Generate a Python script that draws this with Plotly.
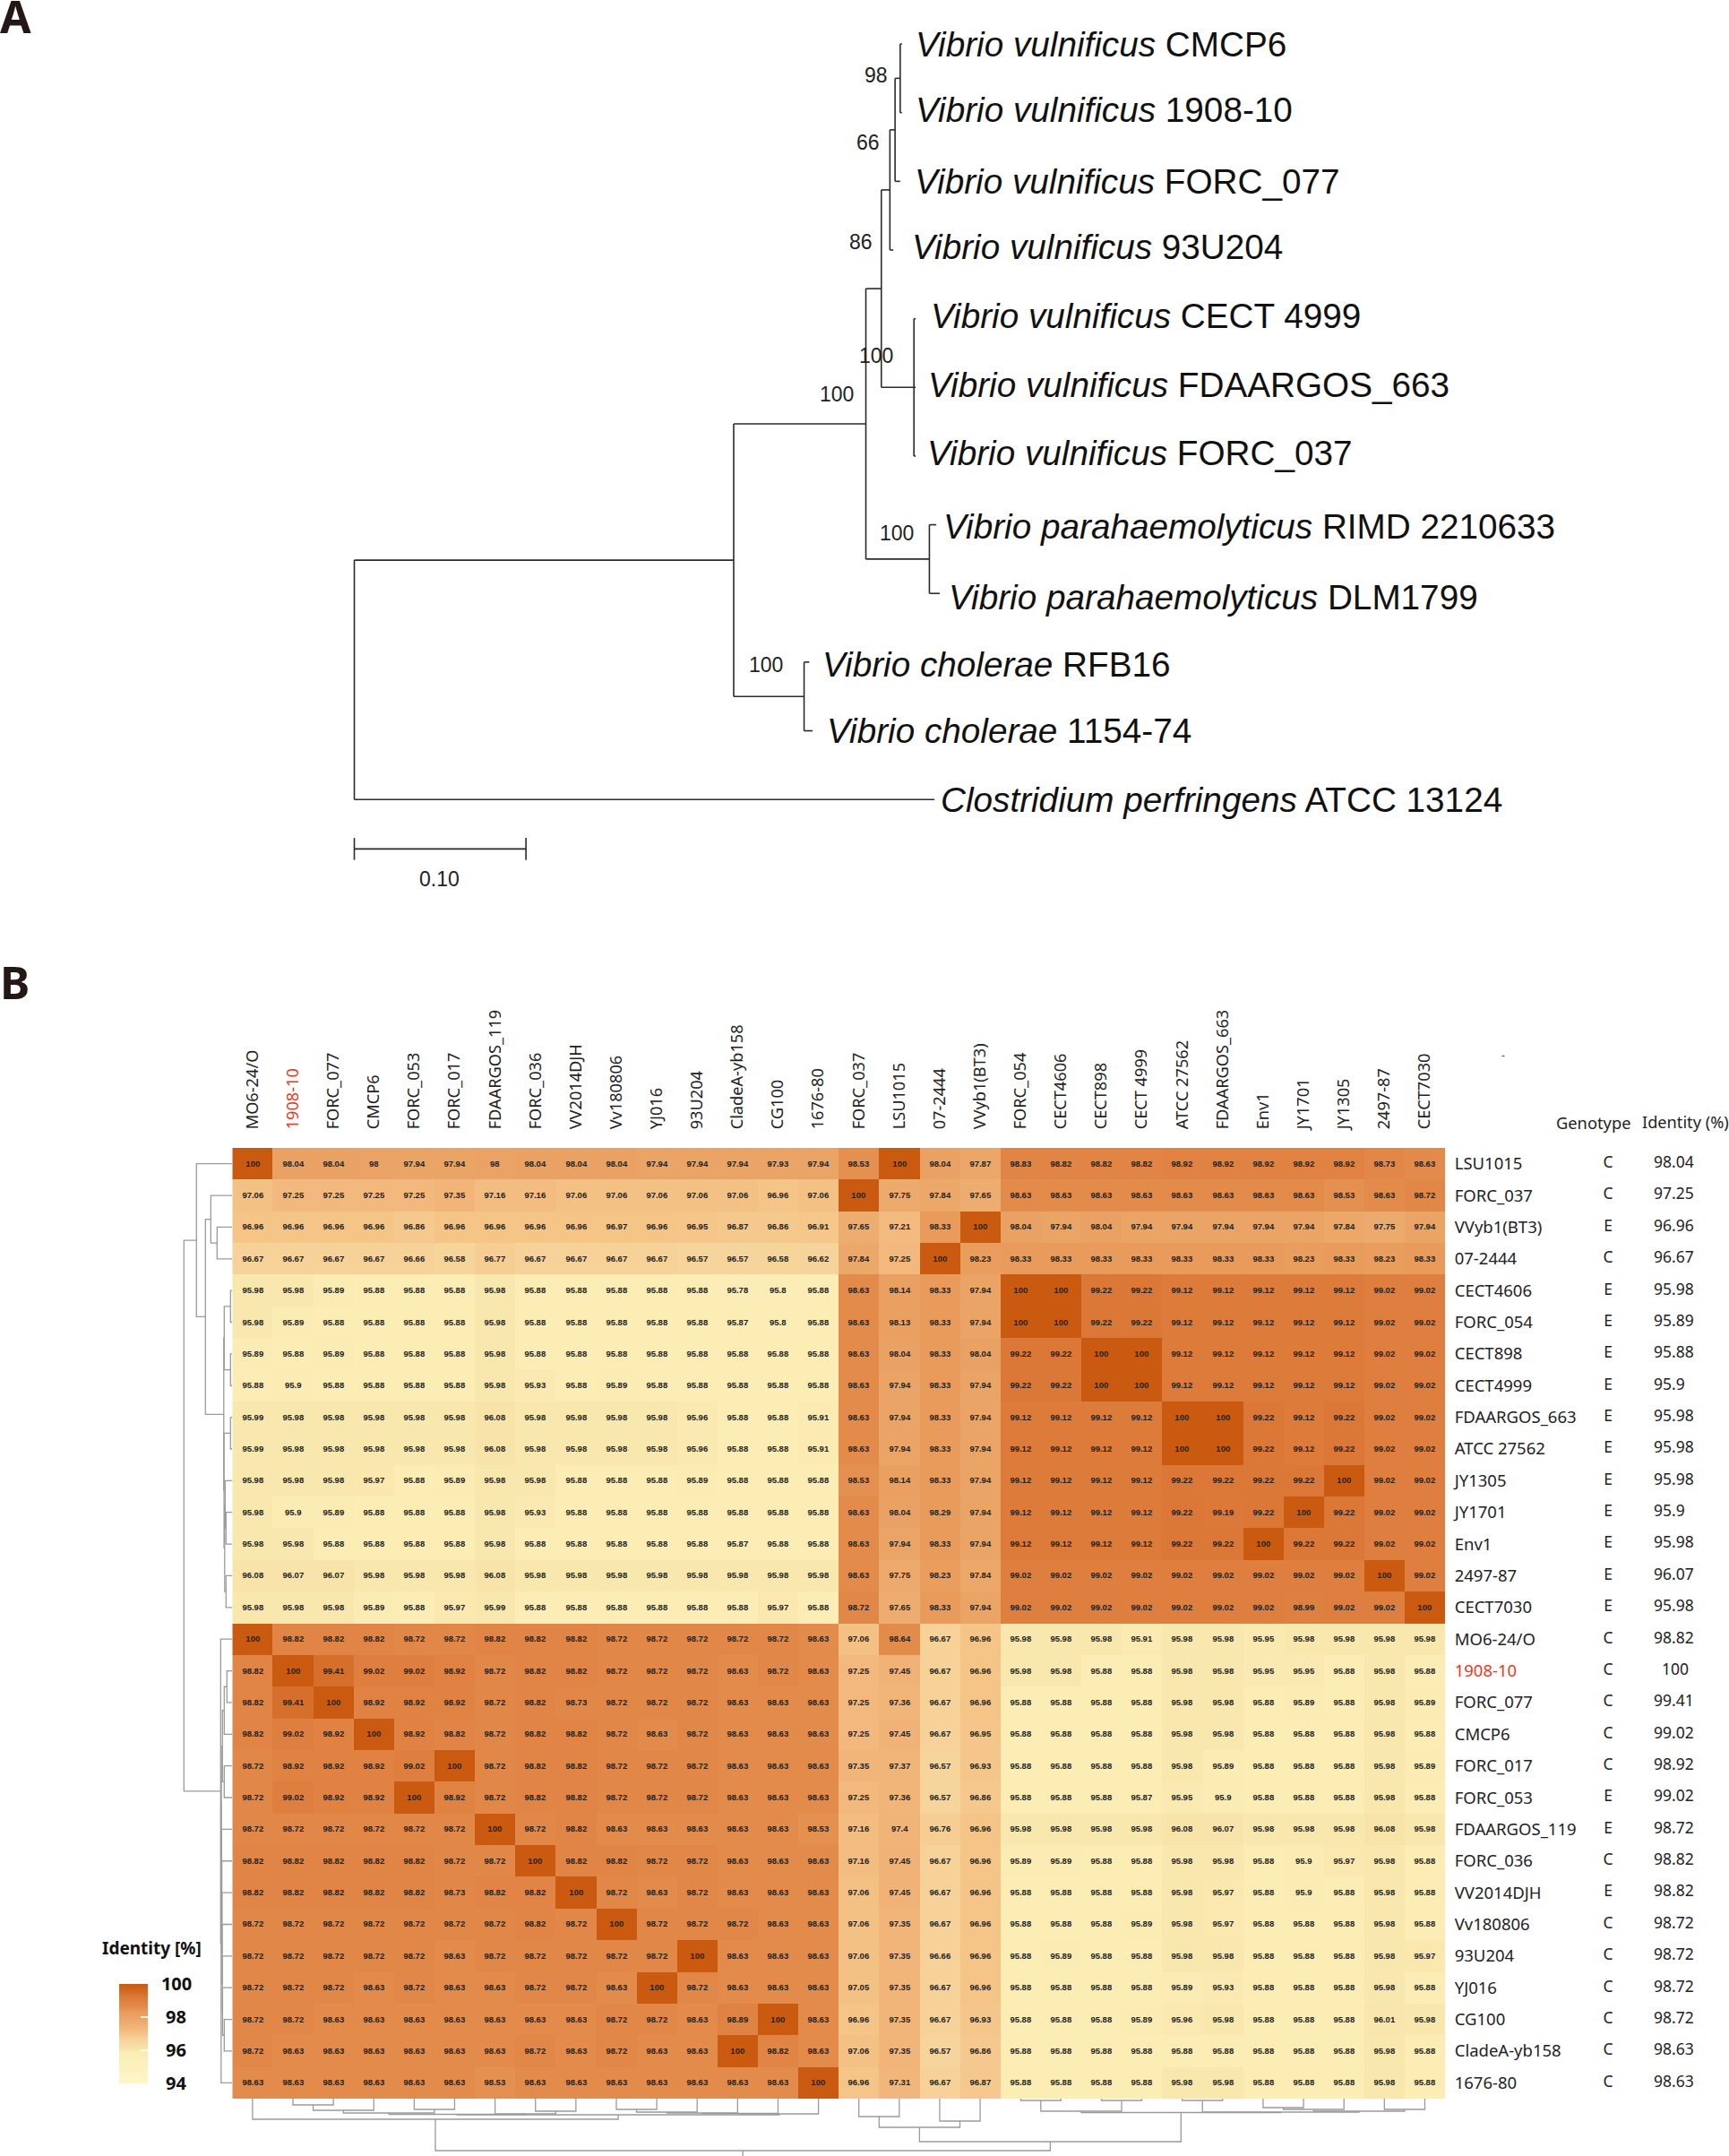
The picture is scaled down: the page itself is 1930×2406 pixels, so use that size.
import plotly.graph_objects as go

# ---------- DATA: panel A ----------
leaf_species = ["Vibrio vulnificus"] * 7 + ["Vibrio parahaemolyticus"] * 2 + ["Vibrio cholerae"] * 2 + ["Clostridium perfringens"]
leaf_strains = ["CMCP6", "1908-10", "FORC_077", "93U204", "CECT 4999", "FDAARGOS_663", "FORC_037",
                "RIMD 2210633", "DLM1799", "RFB16", "1154-74", "ATCC 13124"]
# node = (depth from root, children...), leaf = (depth, leaf index)
phylo_tree = (0.0,
    (0.221,
        (0.298,
            (0.307,
                (0.312,
                    (0.315,
                        (0.318, (0.319, 0), (0.319, 1)),
                        (0.318, 2)),
                    (0.314, 3)),
                (0.326, (0.327, 4), (0.327, 5), (0.327, 6))),
            (0.335, (0.339, 7), (0.341, 8))),
        (0.262, (0.265, 9), (0.267, 10))),
    (0.338, 11))
support_values = ["98", "66", "86", "100", "100", "100", "100"]
scale_bar_length = 0.10

# ---------- DATA: panel B ----------
col_labels = ["MO6-24/O", "1908-10", "FORC_077", "CMCP6", "FORC_053", "FORC_017", "FDAARGOS_119", "FORC_036",
              "VV2014DJH", "Vv180806", "YJ016", "93U204", "CladeA-yb158", "CG100", "1676-80", "FORC_037", "LSU1015",
              "07-2444", "VVyb1(BT3)", "FORC_054", "CECT4606", "CECT898", "CECT 4999", "ATCC 27562", "FDAARGOS_663",
              "Env1", "JY1701", "JY1305", "2497-87", "CECT7030"]
row_labels = ["LSU1015", "FORC_037", "VVyb1(BT3)", "07-2444", "CECT4606", "FORC_054", "CECT898", "CECT4999",
              "FDAARGOS_663", "ATCC 27562", "JY1305", "JY1701", "Env1", "2497-87", "CECT7030", "MO6-24/O", "1908-10",
              "FORC_077", "CMCP6", "FORC_017", "FORC_053", "FDAARGOS_119", "FORC_036", "VV2014DJH", "Vv180806",
              "93U204", "YJ016", "CG100", "CladeA-yb158", "1676-80"]
genotypes = list("CCECEEEEEEEEEEE") + list("CCCCCEECECCCCCC")
identity_pct = ["98.04", "97.25", "96.96", "96.67", "95.98", "95.89", "95.88", "95.9", "95.98", "95.98", "95.98", "95.9",
                "95.98", "96.07", "95.98", "98.82", "100", "99.41", "99.02", "98.92", "99.02", "98.72", "98.82", "98.82",
                "98.72", "98.72", "98.72", "98.72", "98.63", "98.63"]
identity_matrix = [
 [100,98.04,98.04,98,97.94,97.94,98,98.04,98.04,98.04,97.94,97.94,97.94,97.93,97.94,98.53,100,98.04,97.87,98.83,98.82,98.82,98.82,98.92,98.92,98.92,98.92,98.92,98.73,98.63],
 [97.06,97.25,97.25,97.25,97.25,97.35,97.16,97.16,97.06,97.06,97.06,97.06,97.06,96.96,97.06,100,97.75,97.84,97.65,98.63,98.63,98.63,98.63,98.63,98.63,98.63,98.63,98.53,98.63,98.72],
 [96.96,96.96,96.96,96.96,96.86,96.96,96.96,96.96,96.96,96.97,96.96,96.95,96.87,96.86,96.91,97.65,97.21,98.33,100,98.04,97.94,98.04,97.94,97.94,97.94,97.94,97.94,97.84,97.75,97.94],
 [96.67,96.67,96.67,96.67,96.66,96.58,96.77,96.67,96.67,96.67,96.67,96.57,96.57,96.58,96.62,97.84,97.25,100,98.23,98.33,98.33,98.33,98.33,98.33,98.33,98.33,98.23,98.33,98.23,98.33],
 [95.98,95.98,95.89,95.88,95.88,95.88,95.98,95.88,95.88,95.88,95.88,95.88,95.78,95.8,95.88,98.63,98.14,98.33,97.94,100,100,99.22,99.22,99.12,99.12,99.12,99.12,99.12,99.02,99.02],
 [95.98,95.89,95.88,95.88,95.88,95.88,95.98,95.88,95.88,95.88,95.88,95.88,95.87,95.8,95.88,98.63,98.13,98.33,97.94,100,100,99.22,99.22,99.12,99.12,99.12,99.12,99.12,99.02,99.02],
 [95.89,95.88,95.89,95.88,95.88,95.88,95.98,95.88,95.88,95.88,95.88,95.88,95.88,95.88,95.88,98.63,98.04,98.33,98.04,99.22,99.22,100,100,99.12,99.12,99.12,99.12,99.12,99.02,99.02],
 [95.88,95.9,95.88,95.88,95.88,95.88,95.98,95.93,95.88,95.89,95.88,95.88,95.88,95.88,95.88,98.63,97.94,98.33,97.94,99.22,99.22,100,100,99.12,99.12,99.12,99.12,99.12,99.02,99.02],
 [95.99,95.98,95.98,95.98,95.98,95.98,96.08,95.98,95.98,95.98,95.98,95.96,95.88,95.88,95.91,98.63,97.94,98.33,97.94,99.12,99.12,99.12,99.12,100,100,99.22,99.12,99.22,99.02,99.02],
 [95.99,95.98,95.98,95.98,95.98,95.98,96.08,95.98,95.98,95.98,95.98,95.96,95.88,95.88,95.91,98.63,97.94,98.33,97.94,99.12,99.12,99.12,99.12,100,100,99.22,99.12,99.22,99.02,99.02],
 [95.98,95.98,95.98,95.97,95.88,95.89,95.98,95.98,95.88,95.88,95.88,95.89,95.88,95.88,95.88,98.53,98.14,98.33,97.94,99.12,99.12,99.12,99.12,99.22,99.22,99.22,99.22,100,99.02,99.02],
 [95.98,95.9,95.89,95.88,95.88,95.88,95.98,95.93,95.88,95.88,95.88,95.88,95.88,95.88,95.88,98.63,98.04,98.29,97.94,99.12,99.12,99.12,99.12,99.22,99.19,99.22,100,99.22,99.02,99.02],
 [95.98,95.98,95.88,95.88,95.88,95.88,95.98,95.88,95.88,95.88,95.88,95.88,95.87,95.88,95.88,98.63,97.94,98.33,97.94,99.12,99.12,99.12,99.12,99.22,99.22,100,99.22,99.22,99.02,99.02],
 [96.08,96.07,96.07,95.98,95.98,95.98,96.08,95.98,95.98,95.98,95.98,95.98,95.98,95.98,95.98,98.63,97.75,98.23,97.84,99.02,99.02,99.02,99.02,99.02,99.02,99.02,99.02,99.02,100,99.02],
 [95.98,95.98,95.98,95.89,95.88,95.97,95.99,95.88,95.88,95.88,95.88,95.88,95.88,95.97,95.88,98.72,97.65,98.33,97.94,99.02,99.02,99.02,99.02,99.02,99.02,99.02,98.99,99.02,99.02,100],
 [100,98.82,98.82,98.82,98.72,98.72,98.82,98.82,98.82,98.72,98.72,98.72,98.72,98.72,98.63,97.06,98.64,96.67,96.96,95.98,95.98,95.98,95.91,95.98,95.98,95.95,95.98,95.98,95.98,95.98],
 [98.82,100,99.41,99.02,99.02,98.92,98.72,98.82,98.82,98.72,98.72,98.72,98.63,98.72,98.63,97.25,97.45,96.67,96.96,95.98,95.98,95.88,95.88,95.98,95.98,95.95,95.95,95.88,95.98,95.88],
 [98.82,99.41,100,98.92,98.92,98.92,98.72,98.82,98.73,98.72,98.72,98.72,98.63,98.63,98.63,97.25,97.36,96.67,96.96,95.88,95.88,95.88,95.88,95.98,95.98,95.88,95.89,95.88,95.98,95.89],
 [98.82,99.02,98.92,100,98.92,98.82,98.72,98.82,98.82,98.72,98.63,98.72,98.63,98.63,98.63,97.25,97.45,96.67,96.95,95.88,95.88,95.88,95.88,95.98,95.98,95.88,95.88,95.88,95.98,95.88],
 [98.72,98.92,98.92,98.92,99.02,100,98.72,98.82,98.82,98.72,98.72,98.72,98.63,98.63,98.63,97.35,97.37,96.57,96.93,95.88,95.88,95.88,95.88,95.98,95.89,95.88,95.88,95.88,95.98,95.89],
 [98.72,99.02,98.92,98.92,100,98.92,98.72,98.82,98.82,98.72,98.72,98.72,98.63,98.63,98.63,97.25,97.36,96.57,96.86,95.88,95.88,95.88,95.87,95.95,95.9,95.88,95.88,95.88,95.98,95.88],
 [98.72,98.72,98.72,98.72,98.72,98.72,100,98.72,98.82,98.63,98.63,98.63,98.63,98.63,98.53,97.16,97.4,96.76,96.96,95.98,95.98,95.98,95.98,96.08,96.07,95.98,95.98,95.98,96.08,95.98],
 [98.82,98.82,98.82,98.82,98.82,98.72,98.72,100,98.82,98.82,98.72,98.72,98.63,98.63,98.63,97.16,97.45,96.67,96.96,95.89,95.89,95.88,95.88,95.98,95.98,95.88,95.9,95.97,95.98,95.88],
 [98.82,98.82,98.82,98.82,98.82,98.73,98.82,98.82,100,98.72,98.63,98.72,98.63,98.63,98.63,97.06,97.45,96.67,96.96,95.88,95.88,95.88,95.88,95.98,95.97,95.88,95.9,95.88,95.98,95.88],
 [98.72,98.72,98.72,98.72,98.72,98.72,98.72,98.82,98.72,100,98.72,98.72,98.72,98.63,98.63,97.06,97.35,96.67,96.96,95.88,95.88,95.88,95.89,95.98,95.97,95.88,95.88,95.88,95.98,95.88],
 [98.72,98.72,98.72,98.72,98.72,98.63,98.72,98.72,98.72,98.72,98.72,100,98.63,98.63,98.63,97.06,97.35,96.66,96.96,95.88,95.89,95.88,95.88,95.98,95.98,95.88,95.88,95.88,95.98,95.97],
 [98.72,98.72,98.72,98.63,98.72,98.63,98.63,98.72,98.72,98.63,100,98.72,98.63,98.63,98.63,97.05,97.35,96.67,96.96,95.88,95.88,95.88,95.88,95.89,95.93,95.88,95.88,95.88,95.98,95.88],
 [98.72,98.72,98.63,98.63,98.63,98.63,98.63,98.63,98.63,98.72,98.72,98.63,98.89,100,98.63,96.96,97.35,96.67,96.93,95.88,95.88,95.88,95.89,95.96,95.98,95.88,95.88,95.88,96.01,95.98],
 [98.72,98.63,98.63,98.63,98.63,98.63,98.63,98.72,98.63,98.72,98.63,98.63,100,98.82,98.63,97.06,97.35,96.57,96.86,95.88,95.88,95.88,95.88,95.88,95.88,95.88,95.88,95.88,95.98,95.88],
 [98.63,98.63,98.63,98.63,98.63,98.63,98.53,98.63,98.63,98.63,98.63,98.63,98.63,98.63,100,96.96,97.31,96.67,96.87,95.88,95.88,95.88,95.88,95.98,95.98,95.88,95.88,95.88,95.98,95.88],
]
# dendrograms: node = (merge height, left, right); ints are row / column indexes
row_dendrogram = (54,
    (40, 0, (30, (24, 1, (17, 2, 3)),
        (9.5, (9, (2, 4, 5), (2, 6, 7)),
              (9.2, (2, 8, 9), (8.5, (8, 10, (7, 11, 12)), (7, 13, 14)))))),
    (13, 15, (12.5, (12.2, (11, (9, (6, 16, 17), 18), (9, 19, 20)),
        (11.9, 21, (11.7, 22, (11.5, 23, (11.3, 24, (11.1, 25, (10.9, 26, (9, 27, 28))))))))  , 29)))
col_dendrogram = (58,
    (23, 0, (18, (17.5, (16, (13, (7, 1, 2), 3), (12, 4, 5)), (17, 6, (14, 7, 8))),
                 (17, (16.5, (16, (15, (12, 9, 10), 11), 12), 13), 14))),
    (48, (32, (20, 15, 16), (25, 17, 18)),
         (15.5, (14, (2, 19, 20), (2, 21, 22)),
                (15, (2, 23, 24), (14, (12, (10, 25, 26), 27), (12, 28, 29))))))
colorbar_ticks = [94, 96, 98, 100]

# ---------- LAYOUT HELPERS ----------
W, H = 1930, 2406
fx = lambda p: p / W
fy = lambda p: 1 - p / H
THUMB = 1930 / 1259
HM_L, HM_R, HM_T, HM_B = 259.3, 1613.0, 1281.0, 2342.0
SANS = "Noto Sans"
ARIAL = "Liberation Sans"
NB = "\u00a0"

fig = go.Figure()

# ---------- panel A tree ----------
tx, ty = [], []
def walk_phylo(node):
    depth = node[0]
    if len(node) == 2 and isinstance(node[1], int):
        return depth, float(node[1])
    kids = [walk_phylo(k) for k in node[1:]]
    ys = [k[1] for k in kids]
    for d, y in kids:
        tx.extend([depth, d, None]); ty.extend([y, y, None])
    tx.extend([depth, depth, None]); ty.extend([min(ys), max(ys), None])
    return depth, (min(ys) + max(ys)) / 2
walk_phylo(phylo_tree)
fig.add_trace(go.Scatter(x=tx, y=ty, mode="lines", xaxis="x2", yaxis="y2", hoverinfo="skip",
                         line=dict(color="#2b2b2b", width=1.6), showlegend=False))
bar_y = 11.72
fig.add_trace(go.Scatter(x=[0, 0, None, 0, scale_bar_length, None, scale_bar_length, scale_bar_length],
                         y=[bar_y - 0.16, bar_y + 0.16, None, bar_y, bar_y, None, bar_y - 0.16, bar_y + 0.16],
                         mode="lines", xaxis="x2", yaxis="y2", hoverinfo="skip",
                         line=dict(color="#2b2b2b", width=1.6), showlegend=False))

# ---------- panel B heatmap ----------
color_stops = [(94, "#FEF6C8"), (95.88, "#FBEDB4"), (96.08, "#F8E3A9"), (96.67, "#F6D299"), (96.96, "#F5C588"),
               (97.25, "#F2B87D"), (97.94, "#EAA566"), (98.33, "#E89B5B"), (98.63, "#E28B4B"), (99.02, "#DE7F3F"),
               (99.22, "#DC7837"), (99.41, "#D66F2B"), (100, "#CB5A11")]
colorscale = [[(v - 94) / 6, c] for v, c in color_stops]
cb_text = {94: NB * 3 + "94", 96: NB * 3 + "96", 98: NB * 3 + "98", 100: NB * 2 + "100"}
fig.add_trace(go.Heatmap(
    z=identity_matrix, x=list(range(30)), y=list(range(30)), zmin=94, zmax=100, colorscale=colorscale,
    texttemplate="%{z}", textfont=dict(family=ARIAL, size=9.5, color="#222222", weight="bold"), hoverinfo="skip",
    colorbar=dict(x=fx(133), xanchor="left", xpad=0, ypad=0, y=fy(2214), yanchor="top", len=111 / H, lenmode="fraction",
                  thickness=32, thicknessmode="pixels", outlinewidth=0, tickmode="array", tickvals=colorbar_ticks,
                  ticktext=[cb_text[t] for t in colorbar_ticks],
                  ticks="inside", tickcolor="rgba(255,255,255,0.8)", ticklen=8, tickwidth=1.5,
                  tickfont=dict(family=SANS, size=20, color="#111", weight="bold")),
))

# dendrograms
def walk_dendro(node, hs, ps):
    if isinstance(node, int):
        return float(node), 0.0
    h, a, b = node
    pa, ha = walk_dendro(a, hs, ps)
    pb, hb = walk_dendro(b, hs, ps)
    hs.extend([ha, h, h, hb, None]); ps.extend([pa, pa, pb, pb, None])
    return (pa + pb) / 2, h
rh, rp = [], []
walk_dendro(row_dendrogram, rh, rp)
fig.add_trace(go.Scatter(x=rh, y=rp, mode="lines", xaxis="x3", yaxis="y", hoverinfo="skip",
                         line=dict(color="#9a9a9a", width=1.3), showlegend=False))
ch, cp = [], []
rootp, rooth = walk_dendro(col_dendrogram, ch, cp)
ch.extend([rooth, 64]); cp.extend([rootp, rootp])
fig.add_trace(go.Scatter(x=cp, y=ch, mode="lines", xaxis="x", yaxis="y4", hoverinfo="skip",
                         line=dict(color="#9a9a9a", width=1.3), showlegend=False))

# side columns
fig.add_trace(go.Scatter(x=[0] * 30, y=list(range(30)), text=genotypes, mode="text", textposition="middle center",
                         xaxis="x5", yaxis="y", cliponaxis=False, hoverinfo="skip", showlegend=False,
                         textfont=dict(family=SANS, size=17.5, color="#222")))
fig.add_trace(go.Scatter(x=[1] * 30, y=list(range(30)), mode="text", textposition="middle right",
                         text=[(NB * 2 + v) if v == "100" else v for v in identity_pct],
                         xaxis="x5", yaxis="y", cliponaxis=False, hoverinfo="skip", showlegend=False,
                         textfont=dict(family=SANS, size=17.5, color="#222")))

red = lambda s: f'<span style="color:#e8391d">{s}</span>' if s == "1908-10" else s
fig.update_layout(
    width=W, height=H, autosize=False, margin=dict(l=0, r=0, t=0, b=0), paper_bgcolor="white", plot_bgcolor="white",
    showlegend=False,
    xaxis=dict(domain=[fx(HM_L), fx(HM_R)], range=[-0.5, 29.5], side="top", anchor="y", tickmode="array",
               tickvals=list(range(30)), ticktext=[red(c) for c in col_labels], tickangle=-90, ticks="outside", ticklen=16,
               tickcolor="rgba(0,0,0,0)", showgrid=False, zeroline=False, showline=False, automargin=False,
               tickfont=dict(family=SANS, size=18.2, color="#222")),
    yaxis=dict(domain=[fy(HM_B), fy(HM_T)], range=[29.5, -0.5], side="right", anchor="x", tickmode="array",
               tickvals=list(range(30)), ticktext=[red(r) for r in row_labels], ticks="outside", ticklen=6,
               tickcolor="rgba(0,0,0,0)", showgrid=False, zeroline=False, showline=False, automargin=False,
               tickfont=dict(family=SANS, size=18.5, color="#222")),
    xaxis2=dict(domain=[0, 1], range=[-258 / 1250, (W / THUMB - 258) / 1250], anchor="y2", visible=False),
    yaxis2=dict(domain=[fy(1000), 1], range=[(1000 / THUMB - 32) / 50, -32 / 50], anchor="x2", visible=False),
    xaxis3=dict(domain=[fx(HM_L - 60), fx(HM_L)], range=[60, 0], anchor="y", visible=False),
    yaxis4=dict(domain=[0, fy(HM_B)], range=[64, 0], anchor="x", visible=False),
    xaxis5=dict(domain=[fx(1795), fx(1846)], range=[0, 1], anchor="y", visible=False),
)

# ---------- text ----------
ann = []
def note(text, x, y, size, family=ARIAL, color="#111", xanchor="left", weight=None):
    font = dict(family=family, size=size, color=color)
    if weight:
        font["weight"] = weight
    ann.append(dict(text=text, x=fx(x), y=fy(y), xref="paper", yref="paper", xanchor=xanchor, yanchor="middle",
                    showarrow=False, font=font, borderpad=0, borderwidth=0))
leaf_px = [(667, 32), (667, 80), (666, 132), (664, 180), (678, 230), (676, 280), (675, 330), (687, 383), (691, 435),
           (599, 484), (602, 532), (685, 582)]
for sp, st, (lx, ly) in zip(leaf_species, leaf_strains, leaf_px):
    note(f"<i>{sp}</i> {st}", lx * THUMB, ly * THUMB, 38.7)
support_px = [(638, 55), (632, 104), (627, 176), (638, 259), (609, 287), (653, 388), (558, 484)]
for s, (sx, sy) in zip(support_values, support_px):
    note(s, sx * THUMB, sy * THUMB, 23, color="#222", xanchor="center")
note(f"{scale_bar_length:.2f}", 320 * THUMB, 640 * THUMB, 23, color="#222", xanchor="center")
note("A", 0, 18, 50, family=SANS, color="#231815", weight="bold")
note("B", 0, 1096, 50, family=SANS, color="#231815", weight="bold")
note("Genotype", 1778, 1252, 18.3, family=SANS, color="#222", xanchor="center")
note("Identity (%)", 1881, 1252, 18.2, family=SANS, color="#222", xanchor="center")
note("Identity [%]", 169, 2174, 19, family=SANS, color="#111", xanchor="center", weight="bold")
note("-", 1678, 1177, 12, family=SANS, color="#444", xanchor="center")
fig.update_layout(annotations=ann)

fig.write_html("out.html", config={"displayModeBar": False}, post_script="document.body.style.margin='0';")
